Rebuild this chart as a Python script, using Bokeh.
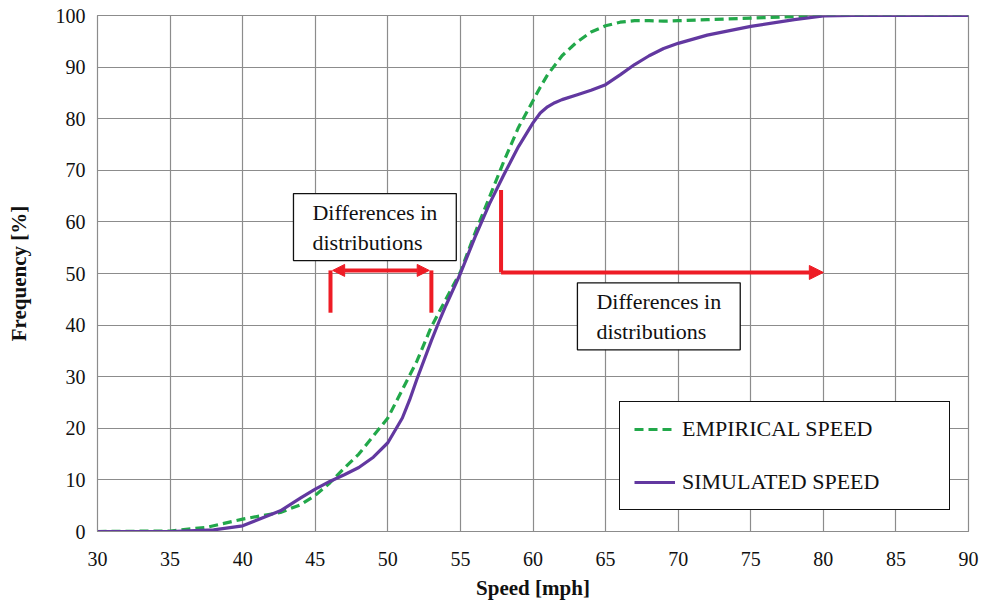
from bokeh.plotting import figure
from bokeh.models import Legend, LegendItem, Label, Arrow, NormalHead, Range1d, FixedTicker
from bokeh.embed import file_html
from bokeh.resources import INLINE

# ---- data ----
emp_x = [30, 35, 37.5, 40, 42.6, 44, 45, 46, 47, 48, 49, 50, 51, 52, 53, 54, 55, 56, 57, 58, 59, 60,
         60.5, 61, 62, 63, 64, 65, 66, 67, 68, 69, 70, 72, 75, 78, 80, 90]
emp_y = [0, 0.1, 0.8, 2.4, 3.7, 5.2, 7, 9.4, 12.3, 15, 18.5, 22, 27.5, 33, 39.7, 45, 50.3, 57.8, 64.8, 71.8, 78.3, 83.5,
         86.1, 88.5, 92.2, 94.8, 96.8, 98, 98.7, 99, 99, 98.9, 99, 99.2, 99.5, 99.8, 100, 100]
sim_x = [30, 35, 38, 40, 42.6, 44, 45, 46, 47, 48, 49, 50, 51, 51.5, 52, 53, 53.5, 54, 55, 56, 57, 58, 59, 60,
         60.5, 61, 61.5, 62, 63, 64, 65, 66, 67, 68, 69, 70, 72, 75, 78, 80, 82, 90]
sim_y = [0, 0, 0.3, 1.1, 4.0, 6.5, 8.2, 9.7, 11, 12.4, 14.4, 17.2, 22, 25.5, 29.5, 37, 40.5, 43.8, 50, 57, 63.5, 69.2, 74.6, 79.2,
         81.1, 82.3, 83.1, 83.7, 84.6, 85.5, 86.6, 88.5, 90.5, 92.2, 93.6, 94.6, 96.2, 97.9, 99.2, 99.9, 100, 100]
x_ticks = [30, 35, 40, 45, 50, 55, 60, 65, 70, 75, 80, 85, 90]
y_ticks = [0, 10, 20, 30, 40, 50, 60, 70, 80, 90, 100]
series_names = ["EMPIRICAL SPEED", "SIMULATED SPEED"]
note_text = "Differences in\ndistributions"
# annotation anchors (data units)
left_bracket_x = [46.05, 53.0]
left_bracket_y = [42.4, 50.6]
right_bracket_x = [57.8, 80.0]
right_bracket_y = [50.2, 66.2]
note1_pos = (43.5, 52.5)
note2_pos = (63.06, 35.2)

FONT = "Liberation Serif"
GRID = "#8c8c8c"
RED = "#ee1c25"

p = figure(width=979, height=605, output_backend="svg", toolbar_location=None,
           x_range=Range1d(30, 90), y_range=Range1d(0, 100),
           min_border_left=97, min_border_right=11, min_border_top=15, min_border_bottom=74)
p.outline_line_color = GRID
p.outline_line_width = 1.2

for ax in (p.xaxis[0], p.yaxis[0]):
    ax.major_label_text_font = FONT
    ax.major_label_text_font_size = "20px"
    ax.major_label_text_color = "#111111"
    ax.axis_label_text_font = FONT
    ax.axis_label_text_font_style = "bold"
    ax.axis_label_text_font_size = "21px"
    ax.axis_label_text_color = "#111111"
    ax.axis_line_color = GRID
    ax.major_tick_line_color = None
    ax.minor_tick_line_color = None
    ax.major_tick_out = 0
    ax.major_tick_in = 0

p.xaxis.ticker = FixedTicker(ticks=x_ticks)
p.yaxis.ticker = FixedTicker(ticks=y_ticks)
p.xaxis.axis_label = "Speed [mph]"
p.yaxis.axis_label = "Frequency [%]"
p.xaxis.major_label_standoff = 20
p.xaxis.axis_label_standoff = 7
p.yaxis.major_label_standoff = 12
p.yaxis.axis_label_standoff = 22

p.xgrid.ticker = FixedTicker(ticks=x_ticks)
p.ygrid.ticker = FixedTicker(ticks=y_ticks)
p.grid.grid_line_color = GRID
p.grid.grid_line_width = 1.2

r_emp = p.line(emp_x, emp_y, line_color="#22a84a", line_width=3.2, line_dash="9 5", line_join="round")
r_sim = p.line(sim_x, sim_y, line_color="#6238a0", line_width=3.2, line_join="round")

# red brackets / arrows
p.line([left_bracket_x[0]] * 2, left_bracket_y, line_color=RED, line_width=4)
p.line([left_bracket_x[1]] * 2, left_bracket_y, line_color=RED, line_width=4)
p.add_layout(Arrow(start=NormalHead(size=12, fill_color=RED, line_color=RED),
                   end=NormalHead(size=12, fill_color=RED, line_color=RED),
                   x_start=left_bracket_x[0] + 0.15, y_start=left_bracket_y[1],
                   x_end=left_bracket_x[1] - 0.15, y_end=left_bracket_y[1],
                   line_color=RED, line_width=4))
p.line([right_bracket_x[0]] * 2, right_bracket_y, line_color=RED, line_width=4)
p.add_layout(Arrow(end=NormalHead(size=14, fill_color=RED, line_color=RED),
                   x_start=right_bracket_x[0], y_start=right_bracket_y[0],
                   x_end=right_bracket_x[1], y_end=right_bracket_y[0],
                   line_color=RED, line_width=4))

for (nx, ny) in (note1_pos, note2_pos):
    p.add_layout(Label(x=nx, y=ny, text=note_text, text_font=FONT, text_font_size="22px",
                       text_color="#111111", text_line_height=1.2,
                       border_line_color="#111111", border_line_width=1.3,
                       background_fill_color="white",
                       padding=dict(left=19, right=19, top=6, bottom=6)))

legend = Legend(items=[LegendItem(label=series_names[0], renderers=[r_emp]),
                       LegendItem(label=series_names[1], renderers=[r_sim])],
                location=(522, 21), label_text_font=FONT, label_text_font_size="22px",
                label_text_color="#111111", glyph_width=41, glyph_height=26, label_standoff=7,
                padding=14, spacing=27, label_width=253, label_height=26,
                border_line_color="#111111", border_line_width=1.5, border_line_alpha=1,
                background_fill_alpha=1)
p.add_layout(legend)

open("out.html", "w").write(file_html(p, INLINE))
